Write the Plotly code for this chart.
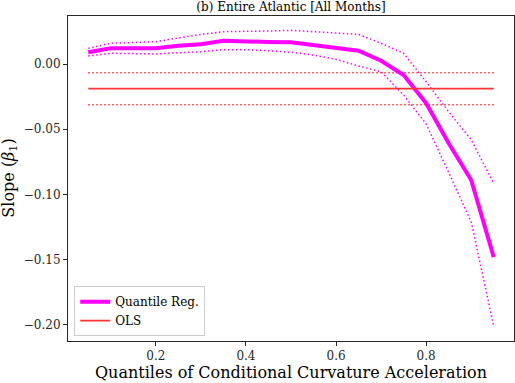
import plotly.graph_objects as go

quantiles = [0.05, 0.1, 0.15, 0.2, 0.25, 0.3, 0.35, 0.4, 0.45, 0.5,
             0.55, 0.6, 0.65, 0.7, 0.75, 0.8, 0.85, 0.9, 0.95]
qr_slope = [0.0090, 0.0120, 0.0120, 0.0120, 0.0140, 0.0152, 0.0178, 0.0177, 0.0169, 0.0166,
            0.0146, 0.0128, 0.0102, 0.0025, -0.0084, -0.0300, -0.0608, -0.0889, -0.1480]
qr_upper = [0.0120, 0.0159, 0.0165, 0.0171, 0.0200, 0.0227, 0.0248, 0.0248, 0.0253, 0.0258,
            0.0248, 0.0240, 0.0227, 0.0159, 0.0082, -0.0136, -0.0366, -0.0580, -0.0915]
qr_lower = [0.0061, 0.0082, 0.0080, 0.0077, 0.0086, 0.0094, 0.0110, 0.0110, 0.0102, 0.0090,
            0.0069, 0.0036, -0.0015, -0.0059, -0.0238, -0.0460, -0.0830, -0.1210, -0.2010]
ols_slope = -0.0189
ols_upper = -0.0067
ols_lower = -0.0312

magenta = "#ff00ff"
red = "#ff3333"
font = "DejaVu Serif"
dotted = "1.5px,2.5px"

fig = go.Figure()
ends = [quantiles[0], quantiles[-1]]
for yv in [ols_upper, ols_lower]:
    fig.add_trace(go.Scatter(x=ends, y=[yv, yv], mode="lines", showlegend=False,
                             line=dict(color=red, width=1.5, dash=dotted)))
fig.add_trace(go.Scatter(x=quantiles, y=qr_upper, mode="lines", showlegend=False,
                         line=dict(color=magenta, width=1.5, dash=dotted)))
fig.add_trace(go.Scatter(x=quantiles, y=qr_lower, mode="lines", showlegend=False,
                         line=dict(color=magenta, width=1.5, dash=dotted)))
fig.add_trace(go.Scatter(x=quantiles, y=qr_slope, mode="lines", name="Quantile Reg.",
                         line=dict(color=magenta, width=4)))
fig.add_trace(go.Scatter(x=ends, y=[ols_slope, ols_slope], mode="lines", name="OLS",
                         line=dict(color=red, width=1.8)))

axis_common = dict(showline=True, linecolor="#262626", linewidth=1, mirror=True,
                   ticks="outside", ticklen=4, tickcolor="#262626", showgrid=False,
                   zeroline=False, automargin=False,
                   tickfont=dict(family=font, size=12, color="#262626"))
fig.update_xaxes(range=[0.005, 0.995], tickvals=[0.2, 0.4, 0.6, 0.8],
                 ticktext=["0.2", "0.4", "0.6", "0.8"], **axis_common)
fig.update_yaxes(range=[-0.2123, 0.0368], tickvals=[0.0, -0.05, -0.1, -0.15, -0.2],
                 ticktext=["0.00", "\u22120.05", "\u22120.10", "\u22120.15", "\u22120.20"],
                 **axis_common)
fig.update_layout(
    width=515, height=383,
    margin=dict(l=68, r=1, t=16, b=42),
    paper_bgcolor="white", plot_bgcolor="white",
    title=dict(text="(b) Entire Atlantic [All Months]", x=0.5, xref="paper", xanchor="center",
               y=0.983, yanchor="middle", font=dict(family=font, size=12, color="black")),
    legend=dict(x=0.014, y=0.015, xanchor="left", yanchor="bottom",
                bgcolor="rgba(255,255,255,0.8)", bordercolor="#cccccc", borderwidth=1,
                font=dict(family=font, size=12, color="black"), tracegroupgap=0,
                itemwidth=30),
    showlegend=True,
    annotations=[
        dict(text="Quantiles of Conditional Curvature Acceleration", xref="paper",
             yref="paper", x=0.5, y=-0.098, xanchor="center", yanchor="middle",
             showarrow=False, font=dict(family=font, size=16, color="black")),
        dict(text="Slope (<i>\u03b2</i><sub>1</sub>)", xref="paper", yref="paper",
             x=-0.132, y=0.5, xanchor="center", yanchor="middle", textangle=-90,
             showarrow=False, font=dict(family=font, size=16, color="black")),
    ],
)

fig.write_html("out.html", config={"displayModeBar": False},
               post_script="document.body.style.margin='0';")
